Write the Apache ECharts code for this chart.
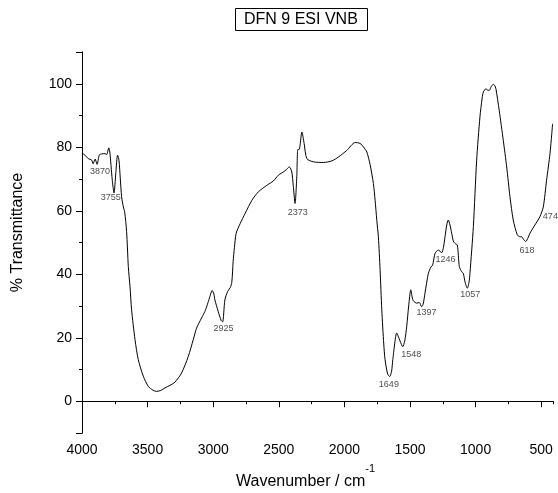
<!DOCTYPE html>
<html>
<head>
<meta charset="utf-8">
<script src="https://cdn.jsdelivr.net/npm/echarts@6/dist/echarts.min.js"></script>
<style>html,body{margin:0;padding:0;background:#fff}#c{width:558px;height:493px}</style>
</head>
<body>
<div id="c"></div>
<script>
// Spectrum: wavenumber (cm^-1) and % transmittance
const wavenumber = [4000,3977,3952,3927,3915,3900,3885,3868,3850,3825,3812,3796,3788,3770,3756,3742,3729,3718,3708,3698,3685,3675,3660,3647,3634,3622,3596,3571,3533,3495,3460,3432,3400,3368,3330,3292,3241,3190,3152,3127,3089,3063,3040,3025,3008,2995,2987,2962,2940,2928,2911,2891,2870,2858,2848,2838,2825,2794,2756,2705,2655,2591,2541,2503,2452,2419,2401,2390,2376,2363,2355,2345,2324,2307,2286,2236,2160,2096,2046,1982,1918,1880,1855,1829,1804,1779,1766,1753,1741,1728,1715,1700,1690,1670,1655,1640,1631,1601,1590,1576,1555,1540,1525,1510,1494,1482,1474,1449,1429,1411,1400,1386,1360,1340,1327,1309,1284,1258,1245,1233,1220,1208,1195,1182,1170,1157,1139,1124,1106,1094,1080,1063,1050,1043,1017,992,967,950,941,921,908,896,880,865,855,845,820,789,763,738,713,682,660,649,635,618,600,586,548,510,484,459,433,413];
const transmittance = [78.2,77.5,76.4,76.0,74.8,76.3,74.6,77.6,77.9,78.0,77.7,79.8,78.5,70,65.6,72,77.5,75.9,70,64.4,61.2,59.7,53.5,42.4,36.1,28.8,19.4,13.1,7.9,4.7,3.5,3.1,3.4,4.2,5.0,6.0,8.9,14.1,19.4,23.0,26.2,28.3,31,33.0,34.9,33.8,31.9,28.3,25.5,25.0,31.9,34.5,35.8,37.5,44,48.5,52.9,56,59.2,63.3,66,68,69.4,71.2,72.6,73.8,72.2,68,62.3,70.7,79.3,79.3,84.8,81.2,76.4,75.4,75.2,75.7,76.9,79,81.5,81.2,80.1,78.5,74.5,68.6,63.3,57,51.8,41.4,28.8,18,13.1,8.5,7.8,9.5,13.1,21.5,20.5,19.0,17.2,19,23.6,30,35.1,32.5,31.6,30.9,31.1,29.8,30.5,34.0,40.3,42.3,42.9,46.6,47.6,46.8,48.5,51.8,55.5,57.1,55.5,52.9,50.5,49.7,49.2,42.4,40.8,40.3,37.5,35.6,37.5,40.3,55,75.9,89.5,95.5,97.4,98.4,98,97.9,99.2,99.8,99.5,98.4,91.6,82.2,73.8,64.4,57.1,52.4,51.8,51.8,51.0,50.3,51.5,52.9,55.5,58.1,61.2,69.6,78,87.4];

// Peak annotations: text, and where the text sits (wavenumber, %T)
const peakText = ['3870','3755','2925','2373','1649','1548','1397','1246','1057','618','474'];
const peakLabelX = [3863,3781,2922,2356,1661,1490,1375,1229,1040,608,430];
const peakLabelY = [72.2,64.1,22.8,59.4,5.3,14.8,28.1,44.5,33.6,47.6,58.1];

const xMajorTicks = 500, xMinorTicks = 250;
const titleText = 'DFN 9 ESI VNB';

const FONT = 'Liberation Sans, Arial, sans-serif';
const chart = echarts.init(document.getElementById('c'));
const lineData = wavenumber.map((w, i) => [-w, transmittance[i]]);
const annData = peakText.map((t, i) => ({ name: t, value: [-peakLabelX[i], peakLabelY[i]] }));

const axisLineStyle = { lineStyle: { color: '#000', width: 1 } };
chart.setOption({
  animation: false,
  backgroundColor: '#fff',
  title: {
    text: titleText, left: 235, top: 8,
    borderWidth: 1, borderColor: '#000', padding: [4, 10, 3, 9],
    textStyle: { fontFamily: FONT, fontSize: 16, fontWeight: 'normal', color: '#000' }
  },
  grid: { left: 82, right: 5, top: 52, bottom: 60, containLabel: false, outerBoundsMode: 'none' },
  xAxis: [{
    type: 'value', min: -4000, max: -410, interval: xMajorTicks,
    axisLine: axisLineStyle, splitLine: { show: false },
    axisTick: { length: 6, inside: false, lineStyle: { color: '#000' } },
    axisLabel: { formatter: v => String(-v), fontFamily: FONT, fontSize: 14, color: '#000', margin: 10 },
    name: '{a|Wavenumber / cm}{b|-1}', nameLocation: 'middle', nameGap: 30,
    nameTextStyle: { padding: [0, 24, 0, 0], rich: {
      a: { fontFamily: FONT, fontSize: 16, color: '#000' },
      b: { fontFamily: FONT, fontSize: 11, color: '#000', padding: [0, 0, 26, 0] }
    } }
  }, {
    type: 'value', min: -4000, max: -410, interval: xMinorTicks, position: 'bottom',
    axisLine: axisLineStyle, splitLine: { show: false },
    axisTick: { length: 3, lineStyle: { color: '#000' } },
    axisLabel: { show: false }
  }],
  yAxis: [{
    type: 'value', min: -10, max: 110, interval: 10,
    axisLine: axisLineStyle, splitLine: { show: false },
    axisTick: { length: 3, lineStyle: { color: '#000' } },
    axisLabel: { show: false },
    name: '% Transmittance', nameLocation: 'middle', nameGap: 56, nameRotate: 90,
    nameTextStyle: { fontFamily: FONT, fontSize: 16, color: '#000', padding: [0, 0, 0, 20] }
  }, {
    type: 'value', min: -10, max: 110, splitNumber: 6, position: 'left',
    axisLine: axisLineStyle, splitLine: { show: false },
    axisTick: { length: 6, lineStyle: { color: '#000' } },
    axisLabel: { formatter: v => (v < 0 || v > 100) ? '' : String(v), fontFamily: FONT, fontSize: 14, color: '#000', margin: 10 }
  }],
  series: [{
    type: 'line', data: lineData, xAxisIndex: 0, yAxisIndex: 0,
    showSymbol: false, smooth: 0.25, silent: true,
    lineStyle: { color: '#000', width: 1 }
  }, {
    type: 'scatter', data: annData, xAxisIndex: 0, yAxisIndex: 0,
    symbolSize: 0, silent: true,
    label: { show: true, position: 'inside', formatter: p => p.name, fontFamily: FONT, fontSize: 9, color: '#222' }
  }]
});
</script>
</body>
</html>
